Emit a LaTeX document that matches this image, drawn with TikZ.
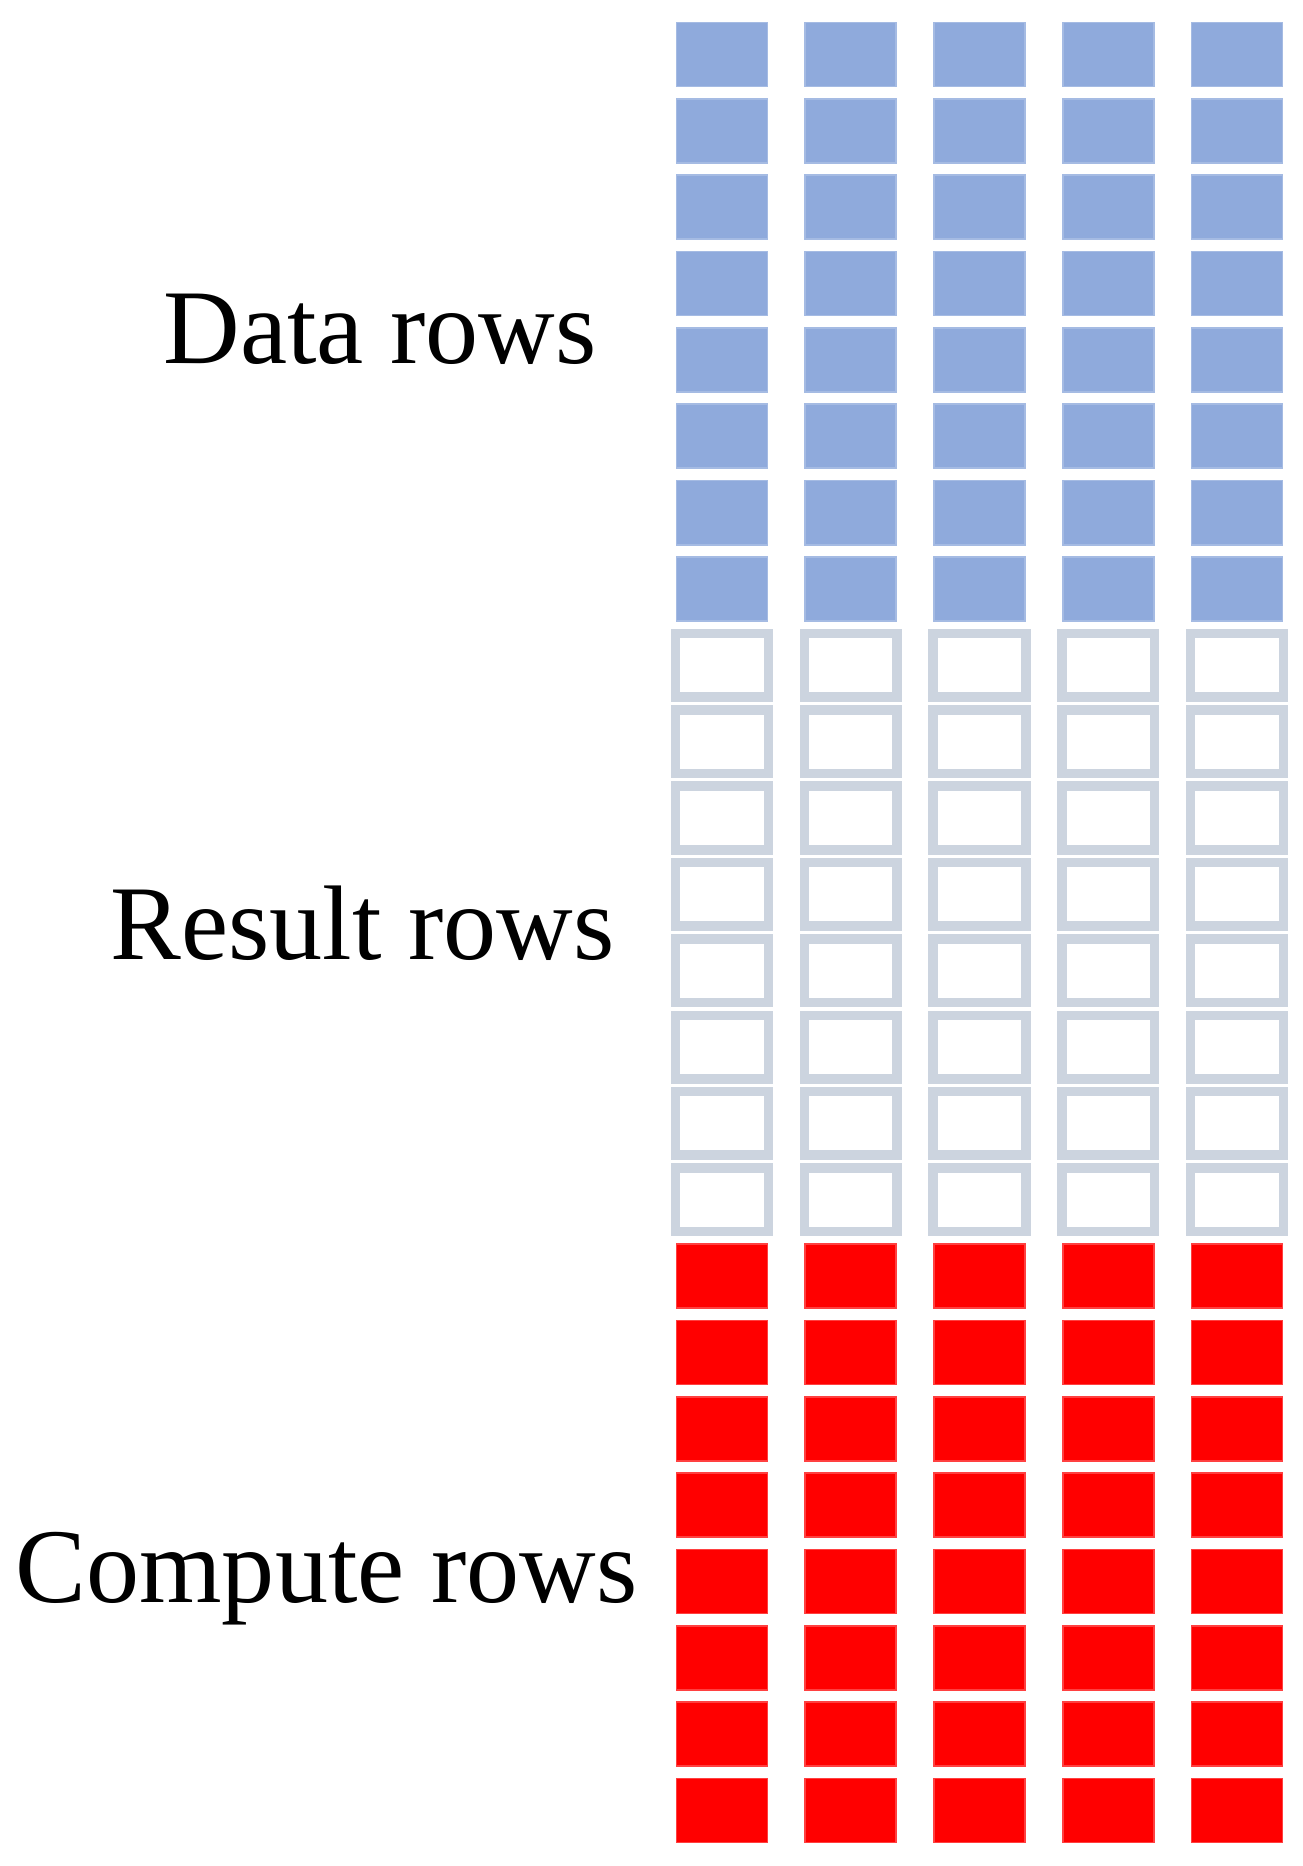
\documentclass[tikz,border=0pt]{standalone}
\usepackage{fontspec}
\setmainfont{Liberation Serif}
\usepackage{tikz}
\usetikzlibrary{calc}

\definecolor{datablue}{RGB}{143,170,220}
\definecolor{resultgray}{RGB}{204,212,223}
\definecolor{computered}{RGB}{255,0,0}

\begin{document}
\begin{tikzpicture}[x=0.01cm,y=-0.01cm]
		\useasboundingbox (0,0) rectangle (1303,1866);

		\begin{scope}[every node/.style={rectangle,inner sep=0pt}]
		\foreach \i in {0,...,4} {
			\foreach \j in {0,...,7} {
				\node[fill=datablue,draw=datablue!80!white,line width=0.5pt,
					minimum width=0.91cm,minimum height=0.64cm]
					(D\i\j) at ({722+128.75*\i},{54.5+76.35*\j}) {};
				\node[draw=resultgray,fill=white,line width=0.095cm,
					minimum width=0.925cm,minimum height=0.635cm]
					(R\i\j) at ({722+128.75*\i},{54.5+76.35*(\j+8)}) {};
				\node[fill=computered,draw=computered!75!white,line width=0.5pt,
					minimum width=0.91cm,minimum height=0.64cm]
					(C\i\j) at ({722+128.75*\i},{54.5+76.35*(\j+16)}) {};
			}
		}
		\end{scope}

		\begin{scope}[every node/.style={anchor=base west,inner sep=0pt,
			font=\fontsize{30.16pt}{36pt}\selectfont}]
		\node (DataLabel) at (163,363) {Data rows};
		\node (ResultLabel) at (110,959) {Result rows};
		\node (ComputeLabel) at (15,1602) {Compute rows};
		\end{scope}
		\end{tikzpicture}
\end{document}
